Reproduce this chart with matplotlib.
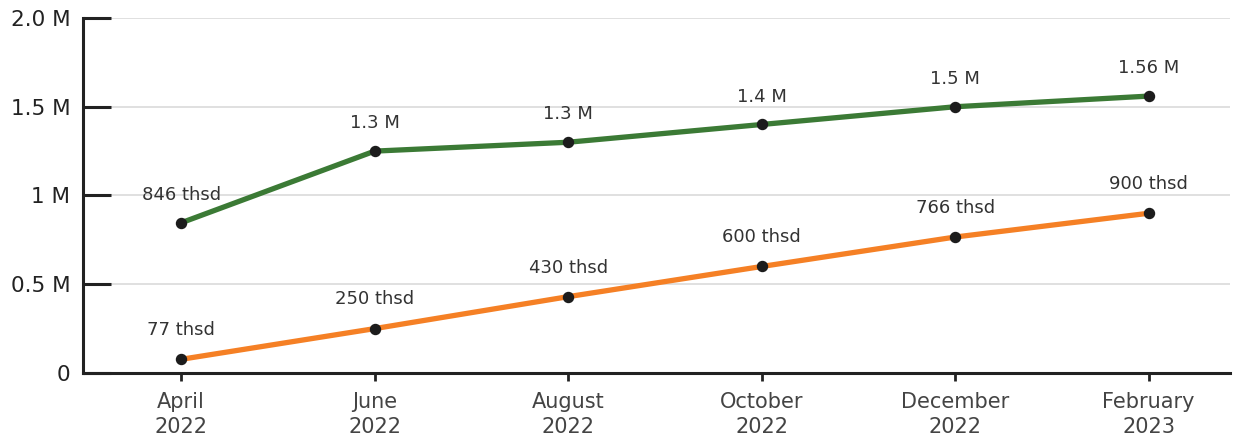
import matplotlib
matplotlib.use("Agg")
import matplotlib.pyplot as plt

# periods on the x axis
months = ["April\n2022", "June\n2022", "August\n2022", "October\n2022",
          "December\n2022", "February\n2023"]

# upper series (millions) and its point labels
green_vals = [0.846, 1.25, 1.3, 1.4, 1.5, 1.56]
green_labels = ["846 thsd", "1.3 M", "1.3 M", "1.4 M", "1.5 M", "1.56 M"]

# lower series (millions) and its point labels
orange_vals = [0.077, 0.25, 0.43, 0.6, 0.766, 0.9]
orange_labels = ["77 thsd", "250 thsd", "430 thsd", "600 thsd", "766 thsd", "900 thsd"]

y_ticks = [0, 0.5, 1.0, 1.5, 2.0]
y_tick_labels = ["0", "0.5 M", "1 M", "1.5 M", "2.0 M"]

plt.rcParams["font.family"] = ["DejaVu Sans"]

fig = plt.figure(figsize=(12.44, 4.41), dpi=100)
ax = fig.add_axes([0.0667, 0.1542, 0.922, 0.805])

x = list(range(len(months)))

ax.plot(x, green_vals, color="#3b7a35", linewidth=3.8, zorder=3,
        solid_capstyle="round")
ax.plot(x, orange_vals, color="#f58025", linewidth=3.8, zorder=3,
        solid_capstyle="round")
ax.scatter(x, green_vals, s=52, color="#1c1c1c", zorder=4)
ax.scatter(x, orange_vals, s=52, color="#1c1c1c", zorder=4)

for xi, v, t in zip(x, green_vals, green_labels):
    ax.annotate(t, (xi, v), xytext=(0, 20), textcoords="offset points",
                ha="center", va="center", fontsize=13, color="#333333")
for xi, v, t in zip(x, orange_vals, orange_labels):
    ax.annotate(t, (xi, v), xytext=(0, 21), textcoords="offset points",
                ha="center", va="center", fontsize=13, color="#333333")

ax.set_xlim(-0.507, 5.42)
ax.set_ylim(0, 2.0)

ax.set_yticks(y_ticks)
ax.set_yticklabels(y_tick_labels, fontsize=15.5, color="#222222")
ax.set_xticks(x)
ax.set_xticklabels(months, fontsize=15, color="#444444", linespacing=1.3)

ax.tick_params(axis="y", direction="in", length=20, width=2.2, color="#222222", pad=9)
ax.tick_params(axis="x", direction="out", length=6, width=2, color="#222222", pad=8)

ax.grid(axis="y", color="#dddddd", linewidth=1.3, zorder=0)
ax.set_axisbelow(True)

for side in ["top", "right"]:
    ax.spines[side].set_visible(False)
for side in ["left", "bottom"]:
    ax.spines[side].set_linewidth(2.2)
    ax.spines[side].set_color("#222222")

fig.savefig("out.png", dpi=100)
